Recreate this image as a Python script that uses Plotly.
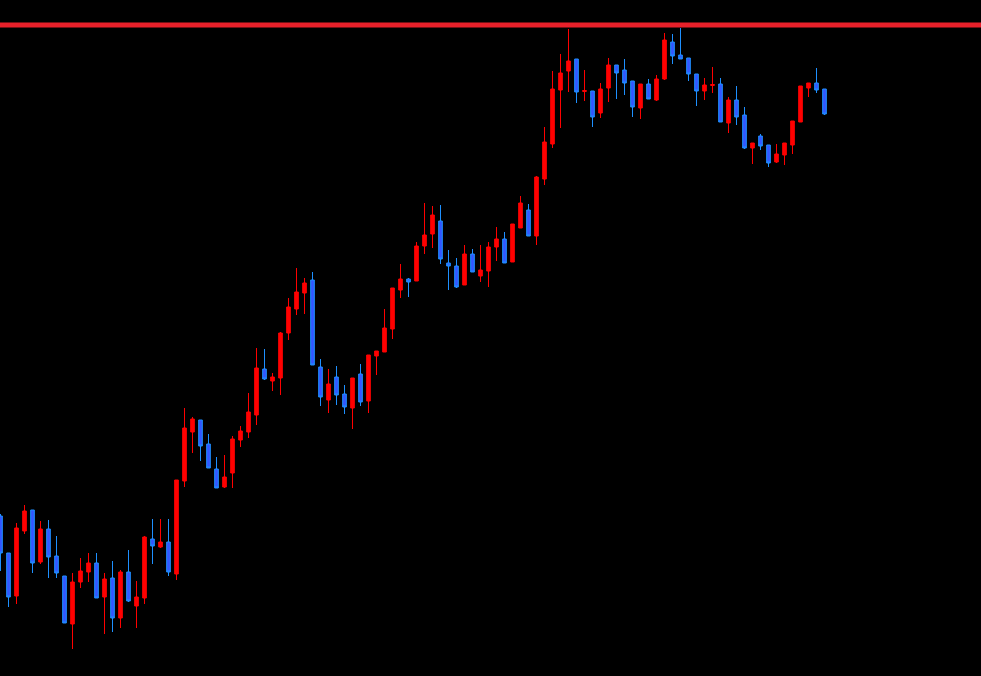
import plotly.graph_objects as go

# Bar index (one per candle)
bar_index = list(range(104))

open_ = [160, 123, 80, 145, 166, 114, 147, 120, 100, 52,
         94, 104, 113, 79, 98, 58, 104, 70, 78, 137,
         129, 134, 102, 195, 244, 256, 232, 207, 189, 203,
         236, 244, 261, 307, 295, 298, 343, 367, 383, 396,
         309, 276, 299, 282, 268, 302, 275, 320, 324, 347,
         386, 397, 395, 430, 442, 455, 413, 410, 391, 422,
         400, 405, 429, 437, 414, 448, 466, 440, 497, 532,
         586, 605, 617, 584.5, 585, 563, 588, 611, 606, 595,
         568, 592, 576, 597, 634, 621, 618, 602, 585, 590.5,
         592, 553, 576, 561, 528, 540, 531, 514, 521, 531,
         554, 588, 593, 587]

high = [162, 123, 153, 171, 166, 155, 156, 140, 100, 103,
        118, 123, 123, 103, 115, 106, 126, 95, 140, 157,
        157, 157, 196, 268, 259, 256, 242, 219, 221, 240,
        250, 283, 328, 327, 303, 344, 378, 408, 398, 404,
        317, 307, 310, 291, 298, 312, 321, 325, 367, 388,
        412, 398, 434, 473, 470, 471, 426, 418, 431, 427,
        431, 434, 449, 444, 452, 480, 472, 500, 549, 605,
        622, 647, 617, 606, 585, 593, 618, 611, 617, 595,
        592, 597, 601, 643, 642, 648, 618, 602, 598, 609,
        598, 579, 590, 569, 533, 542, 531, 532, 533, 555,
        590, 593, 608, 587]

low = [105, 69, 72, 142, 103, 112, 98, 98, 53, 27,
       88, 94, 78, 42, 44, 48, 74, 48, 72, 112,
       128, 100, 96, 189, 223, 215, 208, 188, 188, 188,
       229, 238, 251, 296, 285, 281, 336, 361, 362, 311,
       270, 263, 271, 262, 247, 270, 263, 301, 324, 337,
       378, 379, 395, 422, 428, 412, 386, 388, 391, 404,
       394, 389, 415, 413, 414, 448, 440, 431, 491, 528,
       548, 584, 573, 575, 549, 558, 574, 577, 581, 559,
       557, 577, 575, 596, 612, 617, 595, 570, 576, 583,
       554, 543, 551, 527, 512, 526, 509, 513, 511, 522,
       554, 579, 583, 561]

close = [123, 79, 148, 165, 113, 147, 119, 103, 53, 94,
         105, 113, 78, 97, 58, 104, 75, 79, 139, 130,
         134, 104, 196, 248, 257, 230, 208, 188, 199, 237,
         245, 264, 308, 297, 299, 343, 369, 384, 393, 311,
         279, 292, 281, 269, 298, 274, 321, 325, 348, 388,
         397, 394, 430, 441, 461, 417, 410, 389, 422, 404,
         406, 429, 437, 413, 452, 473, 440, 499, 534, 587,
         603, 615, 584, 585.5, 559, 587, 611, 603, 593, 569,
         592, 577, 597, 636, 620, 617, 602, 585, 591, 591.5,
         554, 576, 559, 528, 533, 530, 513, 522, 533, 555,
         590, 593, 586, 562]

resistance_level = 651

fig = go.Figure()
fig.add_trace(go.Candlestick(
    x=bar_index, open=open_, high=high, low=low, close=close,
    increasing=dict(line=dict(color="#FF0000", width=1), fillcolor="#FF0000"),
    decreasing=dict(line=dict(color="#1E90FF", width=1), fillcolor="#3355FF"),
    whiskerwidth=0,
    hoverinfo="skip",
    showlegend=False,
))

fig.add_shape(type="line", xref="paper", x0=0, x1=1, yref="y",
              y0=resistance_level, y1=resistance_level,
              line=dict(color="#E8202A", width=5))

fig.update_layout(
    width=981, height=676,
    margin=dict(l=0, r=0, t=0, b=0),
    paper_bgcolor="#000000", plot_bgcolor="#000000",
    boxgap=0.35,
    xaxis=dict(visible=False, range=[-0.0625, 122.5625], rangeslider=dict(visible=False)),
    yaxis=dict(visible=False, range=[0, 676]),
    showlegend=False,
)

fig.write_html(
    "out.html",
    config={"displayModeBar": False},
    post_script="document.body.style.margin='0';document.body.style.background='#000';document.body.style.overflow='hidden';",
)
